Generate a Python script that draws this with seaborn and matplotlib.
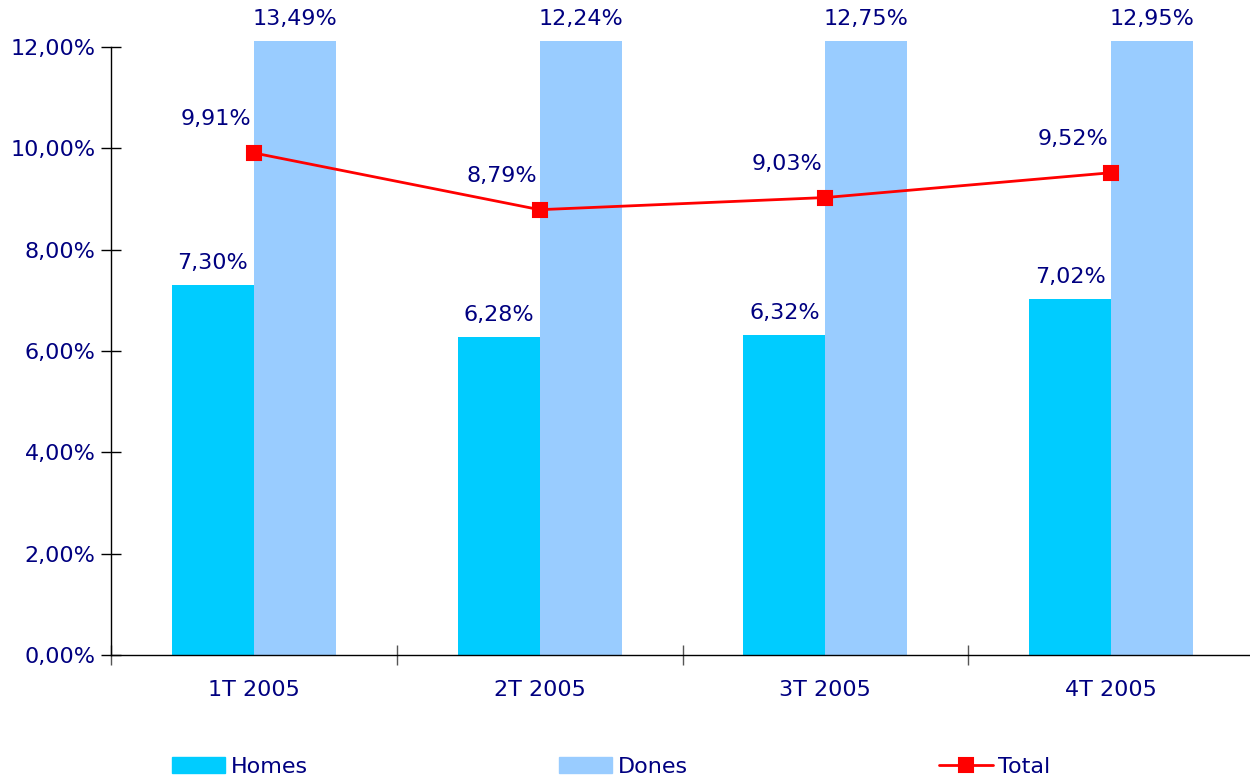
import numpy as np
import pandas as pd
import matplotlib.pyplot as plt
import matplotlib.ticker as ticker
import seaborn as sns

# ─── DATA ─────────────────────────────────────────────────────────────────────
QUARTERS = ["1T 2005", "2T 2005", "3T 2005", "4T 2005"]
HOMES = [7.30, 6.28, 6.32, 7.02]
DONES = [13.49, 12.24, 12.75, 12.95]
TOTAL = [9.91, 8.79, 9.03, 9.52]
Y_TICKS = [0, 2, 4, 6, 8, 10, 12]

# ─── STYLE ────────────────────────────────────────────────────────────────────
sns.set_theme(style="white")
plt.rcParams["font.family"] = ["DejaVu Sans"]
NAVY = "#000080"
FS = 16
COLORS = {"Homes": "#00CCFF", "Dones": "#99CCFF"}
YTOP = 12.12


def fmt(v):
    return f"{v:.2f}".replace(".", ",") + "%"


def main():
    df = pd.DataFrame({
        "Trimestre": QUARTERS * 2,
        "Valor": HOMES + DONES,
        "Serie": ["Homes"] * len(HOMES) + ["Dones"] * len(DONES),
    })

    fig = plt.figure(figsize=(12.5, 7.8), dpi=100)
    ax = fig.add_axes([111 / 1250, 1 - 655 / 780, 1143 / 1250, 614 / 780])

    sns.barplot(data=df, x="Trimestre", y="Valor", hue="Serie",
                palette=COLORS, width=0.574, gap=0, saturation=1,
                linewidth=0, errorbar=None, ax=ax, legend=False)
    sns.pointplot(x=QUARTERS, y=TOTAL, color="#FF0000", markers="s",
                  markersize=10, linewidth=2, errorbar=None, ax=ax)
    line = ax.lines[-1]
    line.set_label("Total")

    ax.set_xlim(-0.5, 3.5)
    ax.set_ylim(0, YTOP)
    ax.spines["left"].set_bounds(0, 12)
    for s in ["top", "right"]:
        ax.spines[s].set_visible(False)
    for s in ["left", "bottom"]:
        ax.spines[s].set_color("black")
        ax.spines[s].set_linewidth(1)

    ax.set_yticks(Y_TICKS)
    ax.yaxis.set_major_formatter(ticker.FuncFormatter(lambda v, _: fmt(v)))
    ax.tick_params(axis="y", left=True, direction="inout", length=14, width=1,
                   color="black", labelsize=FS, labelcolor=NAVY, pad=4)
    ax.set_xticks(range(len(QUARTERS)))
    ax.set_xticklabels(QUARTERS)
    ax.xaxis.set_minor_locator(ticker.FixedLocator(np.arange(-0.5, 3.6, 1)))
    ax.tick_params(axis="x", which="major", bottom=True, length=0,
                   labelsize=FS, labelcolor=NAVY, pad=18)
    ax.tick_params(axis="x", which="minor", bottom=True, direction="inout",
                   length=14, width=1, color="#555555")
    ax.set_xlabel("")
    ax.set_ylabel("")

    # Bar labels
    half = 0.574 / 4
    for i, (h, d) in enumerate(zip(HOMES, DONES)):
        for x, v in [(i - half, h), (i + half, d)]:
            ax.annotate(fmt(v), (x, min(v, YTOP)), xytext=(0, 22),
                        textcoords="offset pixels", ha="center", va="center",
                        fontsize=FS, color=NAVY, annotation_clip=False)
    for i, t in enumerate(TOTAL):
        ax.annotate(fmt(t), (i, t), xytext=(-38, 34),
                    textcoords="offset pixels", ha="center", va="center",
                    fontsize=FS, color=NAVY, annotation_clip=False)

    handles = [plt.Rectangle((0, 0), 1, 1, color=COLORS["Homes"]),
               plt.Rectangle((0, 0), 1, 1, color=COLORS["Dones"]), line]
    fig.legend(handles, ["Homes", "Dones", "Total"], ncol=3,
               loc="center left", bbox_to_anchor=(172 / 1250, 1 - 767 / 780),
               frameon=False, fontsize=FS, labelcolor=NAVY,
               handlelength=2.4, handletextpad=0.25, columnspacing=11.3,
               borderpad=0, borderaxespad=0)

    fig.savefig("out.png", dpi=100)


if __name__ == "__main__":
    main()
